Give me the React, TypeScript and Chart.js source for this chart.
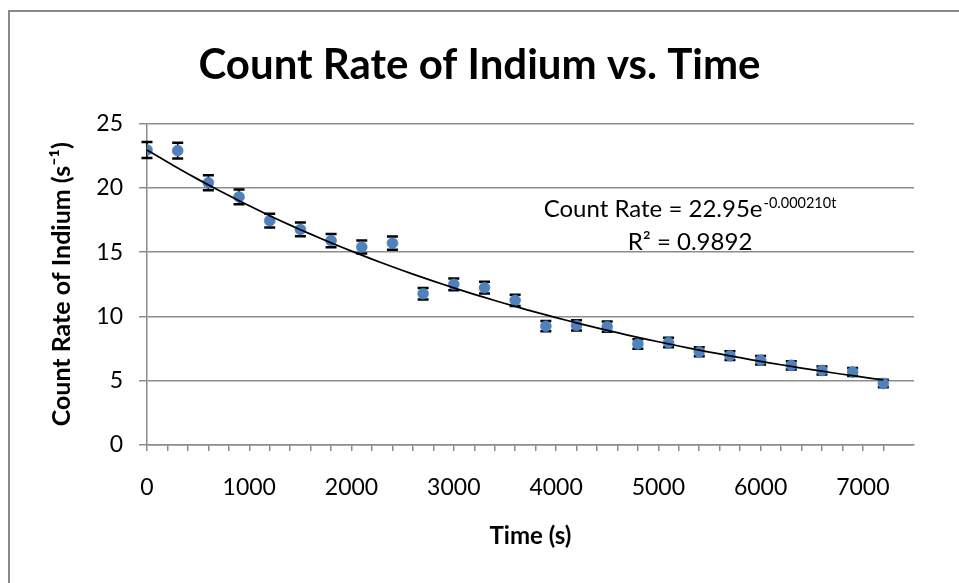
import React, { useEffect, useRef } from 'react';
import { Chart, registerables } from 'chart.js';

Chart.register(...registerables);

// ---- data ----
const times = [0, 300, 600, 900, 1200, 1500, 1800, 2100, 2400, 2700, 3000, 3300, 3600, 3900, 4200, 4500, 4800, 5100, 5400, 5700, 6000, 6300, 6600, 6900, 7200];
const rates = [22.95, 22.9, 20.4, 19.3, 17.45, 16.77, 15.9, 15.4, 15.7, 11.77, 12.5, 12.24, 11.25, 9.24, 9.3, 9.2, 7.86, 7.97, 7.25, 6.95, 6.6, 6.2, 5.8, 5.68, 4.79];
const rateErrors = [0.62, 0.62, 0.59, 0.57, 0.54, 0.53, 0.52, 0.51, 0.51, 0.45, 0.46, 0.45, 0.44, 0.4, 0.4, 0.4, 0.37, 0.37, 0.35, 0.34, 0.33, 0.32, 0.31, 0.31, 0.29];

// exponential trendline coefficients shown on the chart
const fitA = 22.95;
const fitK = 0.00021;
const fitStart = 0;
const fitEnd = 7200;

const yTickValues = [0, 5, 10, 15, 20, 25];
const xTickLabels = ['0', '1000', '2000', '3000', '4000', '5000', '6000', '7000'];

const titleText = 'Count Rate of Indium vs. Time';
const xTitleText = 'Time (s)';
const yTitleText = 'Count Rate of Indium (s\u207B\u00B9)';
const eqMain = 'Count Rate = 22.95e';
const eqSup = '-0.000210t';
const r2Text = 'R\u00B2 = 0.9892';

const FONT = 'Lato, "Open Sans", sans-serif';
const GRID = '#8c8c8c';

const errorBarPlugin = {
  id: 'errorBars',
  beforeDatasetsDraw(chart: any) {
    const { ctx } = chart;
    const x = chart.scales.x;
    const y = chart.scales.y;
    ctx.save();
    ctx.strokeStyle = '#000';
    times.forEach((t, i) => {
      const px = x.getPixelForValue(t);
      const top = y.getPixelForValue(rates[i] + rateErrors[i]);
      const bot = y.getPixelForValue(rates[i] - rateErrors[i]);
      ctx.lineWidth = 1.5;
      ctx.beginPath();
      ctx.moveTo(px, top);
      ctx.lineTo(px, bot);
      ctx.stroke();
      ctx.lineWidth = 2.5;
      ctx.beginPath();
      ctx.moveTo(px - 5.5, top);
      ctx.lineTo(px + 5.5, top);
      ctx.moveTo(px - 5.5, bot);
      ctx.lineTo(px + 5.5, bot);
      ctx.stroke();
    });
    ctx.restore();
  },
};

const equationPlugin = {
  id: 'equation',
  afterDatasetsDraw(chart: any) {
    const { ctx } = chart;
    const x = chart.scales.x;
    const y = chart.scales.y;
    const cx = x.getPixelForValue(5310);
    const b1 = y.getPixelForValue(17.73);
    const b2 = y.getPixelForValue(15.2);
    ctx.save();
    ctx.fillStyle = '#000';
    ctx.textBaseline = 'alphabetic';
    ctx.textAlign = 'left';
    const mainFont = `24px ${FONT}`;
    const supFont = `14.5px ${FONT}`;
    ctx.font = mainFont;
    const w1 = ctx.measureText(eqMain).width;
    ctx.font = supFont;
    const w2 = ctx.measureText(eqSup).width;
    const start = cx - (w1 + w2 + 1) / 2;
    ctx.font = mainFont;
    ctx.fillText(eqMain, start, b1);
    ctx.font = supFont;
    ctx.fillText(eqSup, start + w1 + 1, b1 - 9.5);
    ctx.font = mainFont;
    ctx.textAlign = 'center';
    ctx.fillText(r2Text, cx, b2);
    ctx.restore();
  },
};

export default function App() {
  const ref = useRef<HTMLCanvasElement | null>(null);

  useEffect(() => {
    if (!ref.current) return;
    const trend: { x: number; y: number }[] = [];
    for (let t = fitStart; t <= fitEnd; t += 100) {
      trend.push({ x: t, y: fitA * Math.exp(-fitK * t) });
    }
    const chart = new Chart(ref.current, {
      type: 'scatter',
      data: {
        datasets: [
          {
            type: 'line',
            label: 'Trendline',
            data: trend,
            borderColor: '#000',
            borderWidth: 1.75,
            pointRadius: 0,
            fill: false,
            tension: 0,
            order: 0,
          } as any,
          {
            label: 'Count Rate',
            data: times.map((t, i) => ({ x: t, y: rates[i] })),
            backgroundColor: '#4F81BD',
            borderColor: '#4A7EBB',
            borderWidth: 0.5,
            pointRadius: 5.5,
            pointHoverRadius: 5.5,
            order: 1,
          },
        ],
      },
      options: {
        responsive: false,
        animation: false,
        events: [],
        layout: { padding: 0 },
        plugins: {
          legend: { display: false },
          tooltip: { enabled: false },
          title: {
            display: true,
            text: titleText,
            color: '#000',
            font: { family: FONT, size: 42, weight: 'bold', lineHeight: 1.2 },
            padding: { top: 40, bottom: 33.2 },
          },
        },
        scales: {
          x: {
            type: 'linear',
            min: 0,
            max: 7500,
            afterBuildTicks: (s: any) => {
              s.ticks = s.ticks.filter((t: any) => t.value % 200 === 0 && t.value <= 7400);
            },
            afterFit: (s: any) => {
              s.height = 138;
            },
            ticks: {
              stepSize: 200,
              autoSkip: false,
              maxRotation: 0,
              color: '#000',
              padding: 23,
              font: { family: FONT, size: 23 },
              callback: (v: any) => {
                const idx = xTickLabels.indexOf(String(v));
                return idx >= 0 ? xTickLabels[idx] : '';
              },
            },
            grid: { drawOnChartArea: false, drawTicks: true, tickLength: 6, color: GRID, lineWidth: 1.5 },
            border: { display: true, color: GRID, width: 1.5 },
            title: {
              display: true,
              text: xTitleText,
              color: '#000',
              font: { family: FONT, size: 24, weight: 'bold', lineHeight: 1.2 },
              padding: { top: 0, bottom: 32.6 },
            },
          },
          y: {
            type: 'linear',
            min: 0,
            max: 25,
            afterBuildTicks: (s: any) => {
              s.ticks = yTickValues.map((v) => ({ value: v }));
            },
            afterFit: (s: any) => {
              s.width = 147;
            },
            ticks: {
              stepSize: 5,
              color: '#000',
              padding: 16,
              font: { family: FONT, size: 23 },
            },
            grid: { color: GRID, lineWidth: 1.5, tickLength: 8, drawTicks: true },
            border: { display: true, color: GRID, width: 1.5 },
            title: {
              display: true,
              text: yTitleText,
              color: '#000',
              font: { family: FONT, size: 25, weight: 'bold', lineHeight: 1.2 },
              padding: { top: 46.5, bottom: 0 },
            },
          },
          yRight: {
            type: 'linear',
            position: 'right',
            display: true,
            ticks: { display: false },
            grid: { display: false, drawTicks: false },
            border: { display: false },
            afterFit: (s: any) => {
              s.width = 45;
            },
          },
        },
      },
      plugins: [errorBarPlugin, equationPlugin],
    } as any);
    return () => chart.destroy();
  }, []);

  return (
    <div style={{ position: 'fixed', left: 0, top: 0, width: 959, height: 583, overflow: 'hidden', background: '#fff' }}>
      <div
        style={{
          position: 'absolute',
          left: 8,
          top: 10,
          width: 1100,
          height: 800,
          border: '2px solid #898989',
          boxSizing: 'border-box',
        }}
      />
      <canvas ref={ref} width={959} height={583} style={{ position: 'absolute', left: 0, top: 0 }} />
    </div>
  );
}
